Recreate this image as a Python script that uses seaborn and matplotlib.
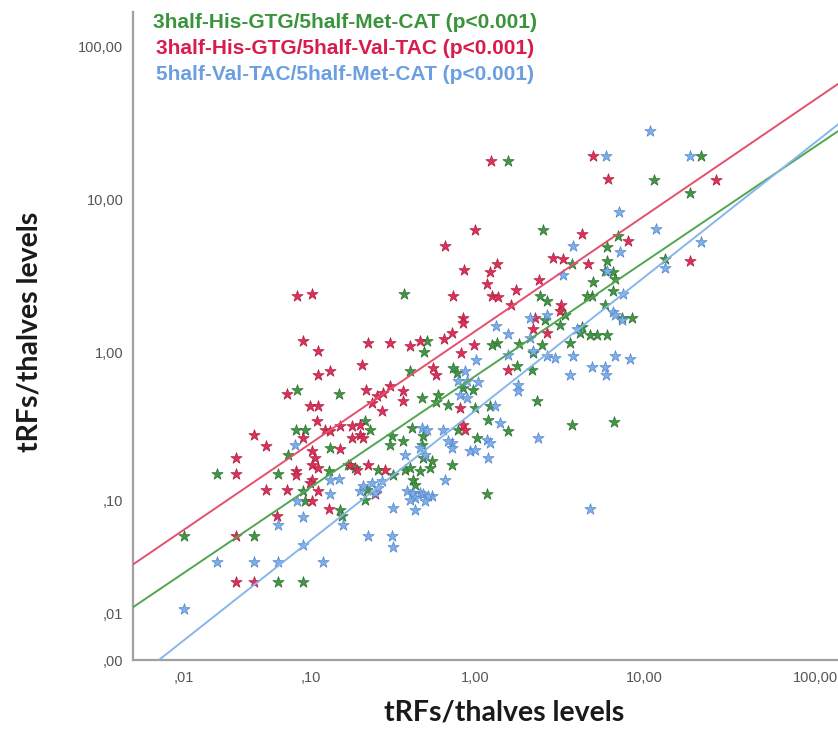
import numpy as np
import pandas as pd
import matplotlib
import matplotlib.pyplot as plt
import seaborn as sns

# ---- data ----
series_names = ["3half-His-GTG/5half-Met-CAT (p<0.001)",
                "3half-His-GTG/5half-Val-TAC (p<0.001)",
                "5half-Val-TAC/5half-Met-CAT (p<0.001)"]

green_x = [1.57, 21.5, 11.4, 18.5, 2.53, 6.98, 6.02, 13.2, 3.75, 6.02, 5.86, 6.52, 6.70, 4.98, 6.52,
           2.43, 2.67, 4.91, 4.59, 5.86, 3.41, 7.37, 8.44, 2.60, 3.18, 4.29, 5.26, 6.02, 4.18, 4.78,
           1.35, 1.27, 2.50, 1.83, 3.65, 2.21, 1.78, 2.18, 0.743, 0.785, 0.852, 0.977, 0.588, 2.33,
           3.75, 6.61, 1.00, 1.23, 1.20, 1.57, 1.03, 0.733, 1.18, 0.378, 0.520, 0.499, 0.412, 0.082,
           0.151, 0.486, 0.605, 0.695, 0.080, 0.092, 0.236, 0.220, 0.320, 0.374, 0.423, 0.492, 0.796,
           0.071, 0.021, 0.061, 0.089, 0.092, 0.154, 0.158, 0.172, 0.190, 0.264, 0.325, 0.384, 0.412,
           0.472, 0.542, 0.558, 0.492, 0.429, 0.441, 0.226, 0.220, 0.131, 0.041, 0.010, 0.061, 0.089,
           0.311, 0.486, 0.133]
green_y = [17.9, 19.3, 13.5, 11.1, 6.38, 5.83, 4.94, 4.13, 3.83, 4.01, 3.45, 3.40, 3.06, 2.92, 2.55,
           2.37, 2.17, 2.37, 2.37, 2.04, 1.78, 1.70, 1.70, 1.63, 1.51, 1.465, 1.30, 1.30, 1.34, 1.30,
           1.15, 1.12, 1.12, 1.134, 1.15, 0.99, 0.814, 0.765, 0.789, 0.731, 0.582, 0.565, 0.471, 0.478,
           0.331, 0.346, 0.430, 0.443, 0.357, 0.301, 0.271, 0.177, 0.110, 2.41, 1.19, 1.005, 0.754, 0.565,
           0.532, 0.500, 0.524, 0.449, 0.306, 0.306, 0.306, 0.352, 0.279, 0.258, 0.316, 0.279, 0.306,
           0.208, 0.154, 0.154, 0.117, 0.0994, 0.0856, 0.0774, 0.177, 0.169, 0.164, 0.151, 0.164, 0.169,
           0.161, 0.169, 0.189, 0.198, 0.140, 0.129, 0.119, 0.101, 0.161, 0.0548, 0.0548, 0.0221, 0.0221,
           0.243, 0.243, 0.231]

red_x = [1.25, 4.98, 6.10, 26.3, 18.5, 1.00, 4.29, 7.99, 0.666, 1.35, 0.864, 1.23, 4.65, 2.90, 3.32,
         2.40, 1.18, 1.27, 1.37, 0.743, 1.75, 1.64, 3.23, 3.18, 0.852, 0.852, 2.27, 2.21, 2.67, 0.99,
         0.657, 0.733, 0.83, 1.57, 0.818, 0.852, 0.876, 0.082, 0.102, 0.089, 0.112, 0.229, 0.311, 0.412,
         0.472, 0.112, 0.133, 0.210, 0.565, 0.588, 0.070, 0.223, 0.282, 0.311, 0.260, 0.242, 0.374, 0.374,
         0.099, 0.112, 0.278, 0.110, 0.124, 0.133, 0.154, 0.182, 0.204, 0.204, 0.182, 0.213, 0.089, 0.041,
         0.050, 0.030, 0.030, 0.154, 0.102, 0.107, 0.102, 0.112, 0.102, 0.099, 0.080, 0.080, 0.070, 0.050,
         0.112, 0.102, 0.131, 0.177, 0.196, 0.229, 0.291, 0.252, 0.060, 0.030, 0.030, 0.041]
red_y = [17.9, 19.3, 13.7, 13.5, 4.01, 6.38, 6.01, 5.41, 5.02, 3.83, 3.50, 3.40, 3.83, 4.19, 4.13,
         3.01, 2.84, 2.37, 2.33, 2.37, 2.59, 2.07, 2.07, 1.89, 1.68, 1.56, 1.70, 1.44, 1.34, 1.12,
         1.22, 1.34, 1.00, 0.765, 0.430, 0.331, 0.306, 2.37, 2.41, 1.19, 1.02, 1.15, 1.15, 1.10,
         1.19, 0.710, 0.754, 0.826, 0.789, 0.710, 0.532, 0.565, 0.540, 0.601, 0.516, 0.464, 0.556, 0.478,
         0.443, 0.443, 0.410, 0.352, 0.306, 0.301, 0.326, 0.326, 0.331, 0.283, 0.271, 0.271, 0.271, 0.283,
         0.239, 0.198, 0.154, 0.228, 0.221, 0.198, 0.177, 0.169, 0.140, 0.133, 0.161, 0.151, 0.119, 0.119,
         0.117, 0.0994, 0.087, 0.177, 0.164, 0.177, 0.164, 0.110, 0.0774, 0.0548, 0.0221, 0.0221]

blue_x = [10.8, 5.94, 18.5, 7.08, 11.7, 21.5, 3.80, 7.17, 13.2, 3.32, 6.02, 7.47, 6.52, 6.70, 7.37,
          2.12, 2.67, 1.34, 1.57, 4.01, 2.12, 2.21, 1.57, 1.017, 2.67, 2.98, 3.80, 6.70, 8.21, 3.65,
          4.91, 5.86, 5.94, 1.80, 1.80, 0.796, 0.900, 1.046, 0.876, 0.818, 0.900, 1.32, 1.41, 2.36,
          1.18, 1.23, 0.937, 1.004, 1.20, 0.733, 0.733, 0.666, 0.558, 4.78, 0.486, 0.520, 0.648, 0.695,
          0.079, 0.384, 0.506, 0.472, 0.395, 0.429, 0.472, 0.492, 0.527, 0.441, 0.412, 0.441, 0.506,
          0.242, 0.264, 0.252, 0.204, 0.213, 0.325, 0.151, 0.133, 0.133, 0.082, 0.161, 0.061, 0.089,
          0.089, 0.229, 0.320, 0.325, 0.021, 0.041, 0.061, 0.120, 0.010, 0.278]
blue_y = [28.0, 19.3, 19.3, 8.35, 6.47, 5.33, 5.02, 4.59, 3.61, 3.25, 3.45, 2.44, 1.86, 1.755, 1.63,
          1.68, 1.755, 1.49, 1.32, 1.44, 1.24, 1.02, 0.96, 0.890, 0.946, 0.918, 0.946, 0.946, 0.904, 0.710,
          0.801, 0.801, 0.710, 0.610, 0.556, 0.648, 0.648, 0.638, 0.754, 0.524, 0.500, 0.443, 0.341, 0.271,
          0.262, 0.250, 0.221, 0.224, 0.198, 0.250, 0.231, 0.140, 0.108, 0.087, 0.316, 0.306, 0.306, 0.258,
          0.243, 0.208, 0.208, 0.231, 0.117, 0.113, 0.113, 0.110, 0.108, 0.104, 0.101, 0.0856, 0.0994,
          0.133, 0.123, 0.113, 0.117, 0.127, 0.0885, 0.142, 0.140, 0.110, 0.0994, 0.0664, 0.0664, 0.0761,
          0.0458, 0.0548, 0.0548, 0.0442, 0.0333, 0.0333, 0.0333, 0.0333, 0.0114, 0.1375]

# fit lines in log10(v + 0.01) space: intercept at 0, slope
fit_intercept = [-0.154, 0.139, -0.379]
fit_slope = [0.751, 0.758, 0.877]

x_ticks = [0.01, 0.1, 1, 10, 100]
x_tick_labels = [",01", ",10", "1,00", "10,00", "100,00"]
y_ticks = [0, 0.01, 0.1, 1, 10, 100]
y_tick_labels = [",00", ",01", ",10", "1,00", "10,00", "100,00"]

# ---- styling ----
star_fill = ["#419844", "#e0305a", "#7db0ea"]
star_edge = ["#2e6e32", "#a8203f", "#5585c8"]
line_colors = ["#52a552", "#e4506e", "#86b6ec"]
text_colors = ["#3a943c", "#d91c4c", "#6b9fe2"]

sns.set_style("white")
plt.rcParams['font.family'] = ['Liberation Sans', 'DejaVu Sans']

OFF = 0.01


def fwd(v):
    return np.log10(np.maximum(np.asarray(v, dtype=float) + OFF, 1e-12))


def inv(t):
    return 10 ** np.asarray(t, dtype=float) - OFF


fig = plt.figure(figsize=(8.38, 7.29), dpi=100)
ax = fig.add_axes([133 / 838, 69 / 729, 1 - 133 / 838, 648 / 729])
ax.set_xscale('function', functions=(fwd, inv))
ax.set_yscale('function', functions=(fwd, inv))

frames = []
for name, xs, ys in zip(series_names, [green_x, red_x, blue_x], [green_y, red_y, blue_y]):
    frames.append(pd.DataFrame({"x": xs, "y": ys, "pair": name}))
df = pd.concat(frames, ignore_index=True)

for i, name in enumerate(series_names):
    sub = df[df["pair"] == name]
    sns.scatterplot(data=sub, x="x", y="y", marker="*", s=72, color=star_fill[i],
                    edgecolor=star_edge[i], linewidth=0.5, ax=ax, legend=False, zorder=2)

xmax, ymax = 136.0, 168.0
tx = np.linspace(fwd(0), fwd(xmax), 300)
for i in range(3):
    ty = fit_intercept[i] + fit_slope[i] * tx
    ax.plot(inv(tx), inv(ty), color=line_colors[i], linewidth=1.4, zorder=3)

ax.set_xlim(0, xmax)
ax.set_ylim(0, ymax)
ax.set_xticks(x_ticks, labels=x_tick_labels)
ax.set_yticks(y_ticks, labels=y_tick_labels)
ax.minorticks_off()
ax.tick_params(axis='both', length=0, labelsize=10.5, labelcolor='#555555')
ax.tick_params(axis='x', pad=8)
ax.tick_params(axis='y', pad=7)

for side in ['top', 'right']:
    ax.spines[side].set_visible(False)
for side in ['left', 'bottom']:
    ax.spines[side].set_color('#a0a0a0')
    ax.spines[side].set_linewidth(1.6)

label_font = dict(family=['Lato', 'DejaVu Sans'], fontweight='bold', fontsize=20.5, color='#1a1a1a')
ax.set_xlabel("tRFs/thalves levels", va='center', **label_font)
ax.set_ylabel("tRFs/thalves levels", va='center', **label_font)
ax.xaxis.set_label_coords((504 - 133) / 705, -(713 - 660) / 648)
ax.yaxis.set_label_coords(-(133 - 30) / 705, (660 - 332) / 648)

# coloured legend text
for i, name in enumerate(series_names):
    ax.text((345 - 133) / 705, (660 - (23 + 25.5 * i)) / 648, name, transform=ax.transAxes,
            ha='center', va='center', fontsize=15, fontweight='bold', color=text_colors[i])

fig.savefig("out.png", dpi=100)
